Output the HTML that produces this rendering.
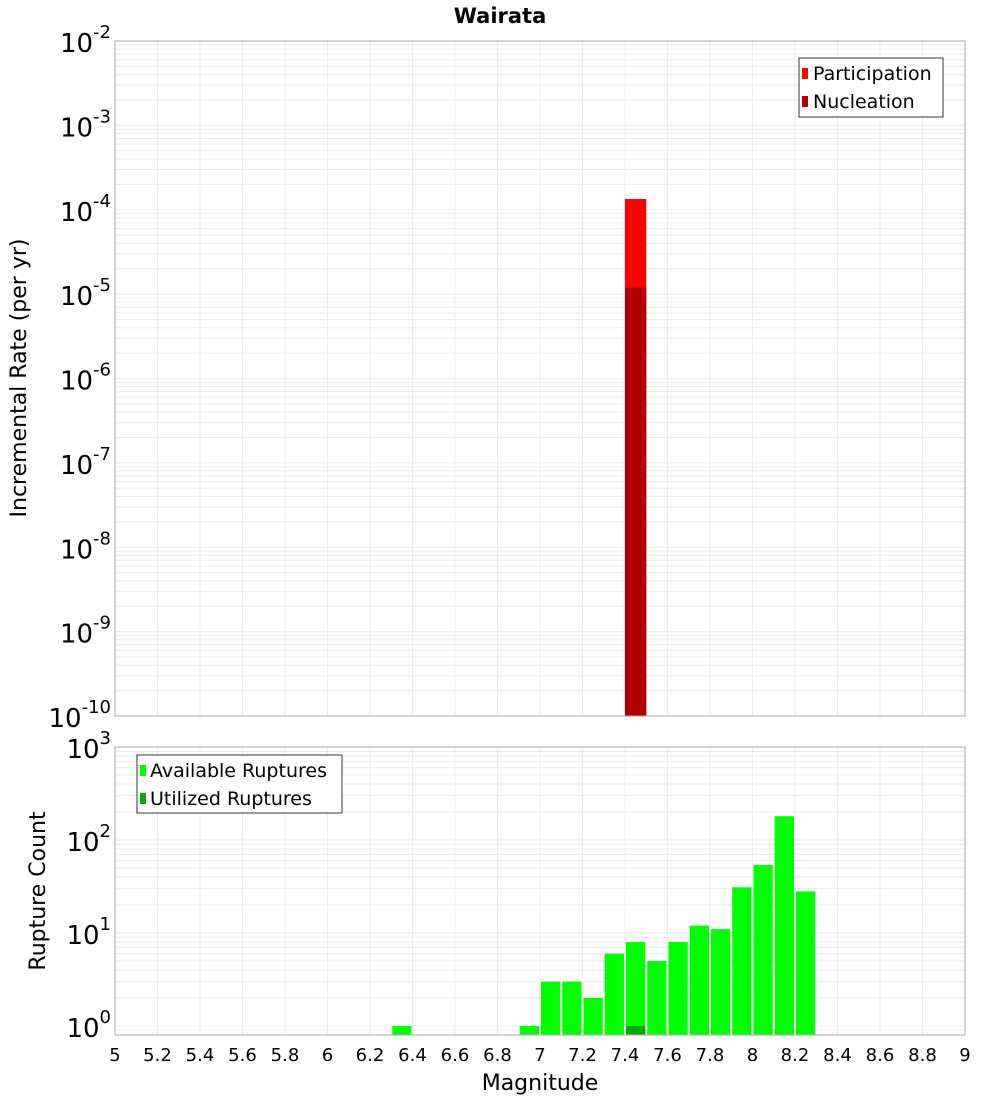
<!DOCTYPE html>
<html><head><meta charset="utf-8"><style>
html,body{margin:0;padding:0;background:#fff;}
svg{display:block;font-family:"DejaVu Sans","Liberation Sans",sans-serif;}
</style></head><body>
<svg id="chart" width="1000" height="1100" xmlns="http://www.w3.org/2000/svg">
<text x="500" y="23" text-anchor="middle" font-size="21" font-weight="bold">Wairata</text>
<g id="gtop"></g>
<g id="gbot"></g>
<text transform="translate(26,378) rotate(-90)" text-anchor="middle" font-size="22">Incremental Rate (per yr)</text>
<text transform="translate(45,891) rotate(-90)" text-anchor="middle" font-size="22">Rupture Count</text>
<text x="540" y="1090" text-anchor="middle" font-size="22">Magnitude</text>
<g>
<rect x="799" y="58" width="144" height="59" fill="#fff" stroke="#333" stroke-width="1"/>
<rect x="802" y="68" width="6" height="11" fill="#ff0000"/>
<text x="813" y="80" font-size="19">Participation</text>
<rect x="802" y="96" width="6" height="11" fill="#b00000"/>
<text x="813" y="108" font-size="19">Nucleation</text>
</g>
<g>
<rect x="137" y="755" width="205" height="58" fill="#fff" stroke="#333" stroke-width="1"/>
<rect x="140" y="765" width="6" height="11" fill="#00ff00"/>
<text x="150" y="777" font-size="19">Available Ruptures</text>
<rect x="140" y="793" width="6" height="11" fill="#00aa00"/>
<text x="150" y="805" font-size="19">Utilized Ruptures</text>
</g>
</svg>
<script>
const xTicks = [5,5.2,5.4,5.6,5.8,6,6.2,6.4,6.6,6.8,7,7.2,7.4,7.6,7.8,8,8.2,8.4,8.6,8.8,9];
const rateMags = [7.45];
const participation = [1.34e-4];
const nucleation = [1.19e-5];
const countMags = [6.35,6.95,7.05,7.15,7.25,7.35,7.45,7.55,7.65,7.75,7.85,7.95,8.05,8.15,8.25];
const available = [1,1,3,3,2,6,8,5,8,12,11,31,54,180,28];
const utilizedMags = [7.45];
const utilized = [1];
const rateDecades = [-2,-3,-4,-5,-6,-7,-8,-9,-10];
const countDecades = [3,2,1,0];

const NS="http://www.w3.org/2000/svg";
const L=115,R=965;
function xs(m){return L+(m-5)/4*(R-L);}
const T1=41,B1=716;
function y1(v){return T1+(-2-Math.log10(v))*(B1-T1)/8;}
const T2=747,B2=1035,DEC2=93;
function y2(v){return T2+(3-Math.log10(v))*DEC2;}
function mk(parent,tag,attrs){const e=document.createElementNS(NS,tag);for(const k in attrs)e.setAttribute(k,attrs[k]);parent.appendChild(e);return e;}
const gTop=document.getElementById('gtop'),gBot=document.getElementById('gbot');

function grid(g,T,B,yf,dmin,dmax){
  for(const t of xTicks){const l=mk(g,'line',{x1:xs(t),x2:xs(t),y1:T,y2:B,stroke:'#ebebeb','stroke-width':1});
    
    }
  for(let d=dmin;d<dmax;d++){for(let k=1;k<10;k++){const y=yf(k*Math.pow(10,d));if(y<T||y>B)continue;
    const l=mk(g,'line',{x1:L,x2:R,y1:y,y2:y,stroke:'#ebebeb','stroke-width':1});
    
    }}
}
grid(gTop,T1,B1,y1,-10,-1);
grid(gBot,T2,B2,y2,-1,3);

participation.forEach((v,i)=>{const r=mk(gTop,'rect',{x:xs(rateMags[i]-0.05),y:y1(v),width:xs(rateMags[i]+0.05)-xs(rateMags[i]-0.05),height:B1-y1(v),fill:'#ff0000'});
  
  });
nucleation.forEach((v,i)=>{const r=mk(gTop,'rect',{x:xs(rateMags[i]-0.05),y:y1(v),width:xs(rateMags[i]+0.05)-xs(rateMags[i]-0.05),height:B1-y1(v),fill:'#b00000'});
  
  });
available.forEach((v,i)=>{const x0=xs(countMags[i]-0.05)+1,x1=xs(countMags[i]+0.05)-1;
  const r=mk(gBot,'rect',{x:x0,y:y2(v),width:x1-x0,height:B2-y2(v),fill:'#00ff00'});
  
  });
utilized.forEach((v,i)=>{const x0=xs(utilizedMags[i]-0.05)+1,x1=xs(utilizedMags[i]+0.05)-1;
  const r=mk(gBot,'rect',{x:x0,y:y2(v),width:x1-x0,height:B2-y2(v),fill:'#00aa00'});
  
  });

mk(gTop,'rect',{x:L,y:T1,width:R-L,height:B1-T1,fill:'none',stroke:'#aaa','stroke-width':1});
mk(gBot,'rect',{x:L,y:T2,width:R-L,height:B2-T2,fill:'none',stroke:'#aaa','stroke-width':1});

function decLabel(g,y,exp,name){
  const t=mk(g,'text',{x:111,y:y+11,'text-anchor':'end','font-size':26});
  
  
  const a=mk(t,'tspan',{});a.textContent='10';
  const b=mk(t,'tspan',{dy:-14,'font-size':18});b.textContent=String(exp);
}
rateDecades.forEach(d=>decLabel(gTop,y1(Math.pow(10,d)),d,'y-tick-label-rate'));
countDecades.forEach(d=>decLabel(gBot,y2(Math.pow(10,d)),d,'y-tick-label-count'));
xTicks.forEach(t=>{const e=mk(gBot,'text',{x:xs(t),y:1061,'text-anchor':'middle','font-size':18});
  
  
  e.textContent=String(t);});
</script>
</body></html>
